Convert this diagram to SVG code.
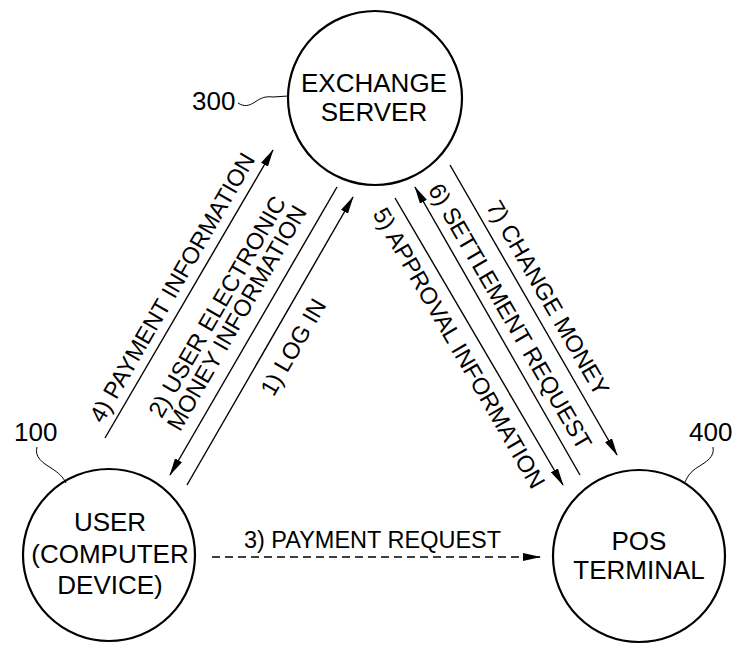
<svg xmlns="http://www.w3.org/2000/svg" width="747" height="664" viewBox="0 0 747 664">
<style>
.node{fill:#fff;stroke:#000;stroke-width:2.2}
.t{font-family:"Liberation Sans",Arial,Helvetica,sans-serif;font-size:26px;fill:#000;text-anchor:middle}
.num{font-family:"Liberation Sans",Arial,Helvetica,sans-serif;font-size:26px;fill:#000}
.lbl{font-family:"Liberation Sans",Arial,Helvetica,sans-serif;font-size:23.5px;fill:#000;text-anchor:middle}
.ln{stroke:#000;stroke-width:1.4;fill:none}
.lead{stroke:#000;stroke-width:1;fill:none}
</style>
<defs>
<marker id="ah" viewBox="0 0 18 8" refX="17" refY="4" markerWidth="18" markerHeight="8" markerUnits="userSpaceOnUse" orient="auto">
<path d="M0,0 L18,4 L0,8 z" fill="#000"/>
</marker>
</defs>
<rect width="747" height="664" fill="#fff"/>

<g id="exchange-server">
<circle class="node" cx="375" cy="98" r="87"/>
<text class="t" x="374" y="92">EXCHANGE</text>
<text class="t" x="374" y="121">SERVER</text>
<text class="num" x="192" y="110">300</text>
<path class="lead" d="M238,103 C244,107 249,106 255,102 C261,98 265,96 273,97 L288,96"/>
</g>

<g id="user">
<circle class="node" cx="109" cy="555" r="86"/>
<text class="t" x="110" y="531">USER</text>
<text class="t" x="110" y="563">(COMPUTER</text>
<text class="t" x="110" y="594">DEVICE)</text>
<text class="num" x="14" y="441">100</text>
<path class="lead" d="M37,447 C34,457 43,463 51,468 C59,473 63,477 66,483"/>
</g>

<g id="pos-terminal">
<circle class="node" cx="639" cy="556" r="86"/>
<text class="t" x="639" y="550">POS</text>
<text class="t" x="639" y="579">TERMINAL</text>
<text class="num" x="689" y="441">400</text>
<path class="lead" d="M713,447 C715,457 706,462 698,467 C690,472 688,476 685,482"/>
</g>

<g id="connectors">
<line class="ln" x1="105" y1="438" x2="273" y2="150" marker-end="url(#ah)"/>
<line class="ln" x1="337" y1="187" x2="170" y2="475" marker-end="url(#ah)"/>
<line class="ln" x1="187" y1="485" x2="353" y2="197" marker-end="url(#ah)"/>
<line class="ln" x1="395" y1="198" x2="563" y2="485" marker-end="url(#ah)"/>
<line class="ln" x1="580" y1="475" x2="415" y2="187" marker-end="url(#ah)"/>
<line class="ln" x1="450" y1="165" x2="617" y2="455" marker-end="url(#ah)"/>
<line class="ln" x1="212" y1="557" x2="540" y2="557" stroke-dasharray="8,5" marker-end="url(#ah)"/>

<g transform="rotate(-60)">
<text class="lbl" x="-163" y="301">4) PAYMENT  INFORMATION</text>
<text class="lbl" x="-157" y="349.5">2) USER ELECTRONIC</text>
<text class="lbl" x="-157" y="372">MONEY INFORMATION</text>
<text class="lbl" x="-154" y="435.5">1) LOG IN</text>
</g>
<g transform="rotate(60)">
<text class="lbl" x="531" y="-215.5">5) APPROVAL INFORMATION</text>
<text class="lbl" x="529" y="-275.5">6) SETTLEMENT REQUEST</text>
<text class="lbl" x="532" y="-317.5">7) CHANGE MONEY</text>
</g>
<text class="lbl" x="372.5" y="548">3) PAYMENT REQUEST</text>
</g>
</svg>
